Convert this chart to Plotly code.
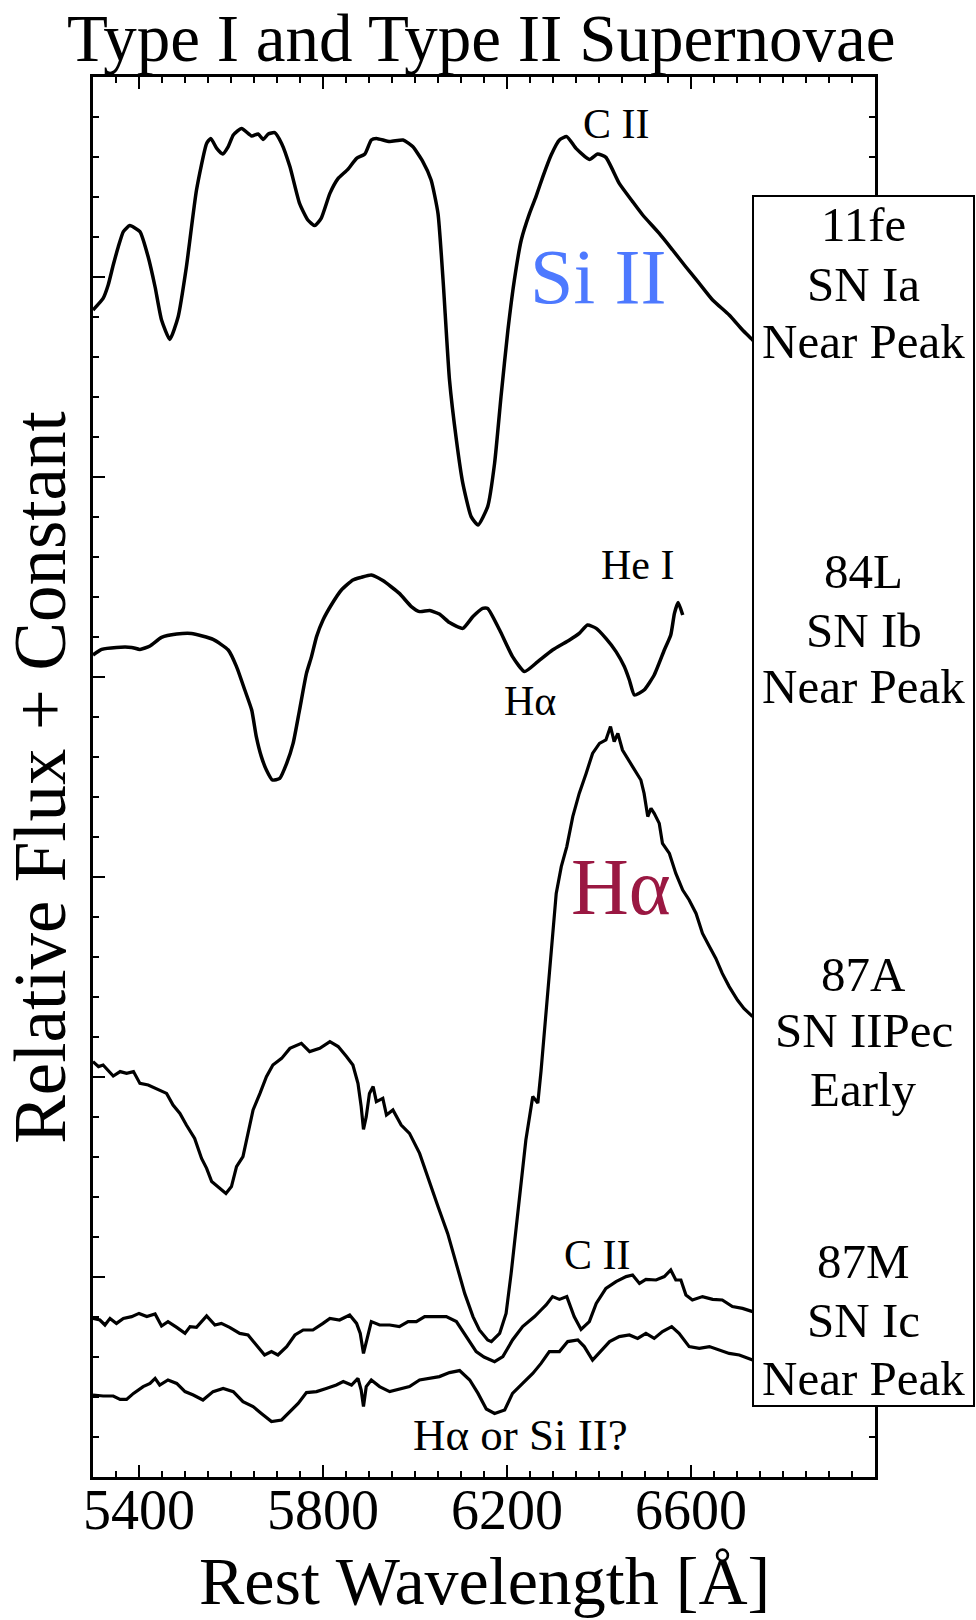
import plotly.graph_objects as go

# ---- spectra (rest wavelength in Angstrom, relative flux + constant) ----
wave_11fe = [5300, 5322, 5333, 5344, 5355, 5366, 5380, 5402, 5420, 5435, 5449, 5467, 5485, 5503, 5525,
             5547, 5556, 5569, 5582, 5594, 5605, 5623, 5645, 5659, 5670, 5681, 5695, 5710, 5728, 5749,
             5767, 5782, 5796, 5815, 5833, 5854, 5873, 5891, 5905, 5916, 5945, 5974, 5995, 6017, 6035,
             6050, 6061, 6075, 6090, 6104, 6122, 6137, 6158, 6173, 6187, 6202, 6216, 6231, 6249, 6263,
             6278, 6296, 6314, 6330, 6350, 6379, 6397, 6415, 6444, 6473, 6495, 6531, 6560, 6589, 6618,
             6647, 6683, 6712, 6734, 6760]
flux_11fe = [5.835, 5.893, 5.96, 6.06, 6.151, 6.227, 6.257, 6.227, 6.10, 5.95, 5.785, 5.688, 5.80, 6.05, 6.435,
             6.668, 6.693, 6.643, 6.615, 6.652, 6.71, 6.743, 6.705, 6.715, 6.688, 6.715, 6.722, 6.668, 6.552, 6.368,
             6.285, 6.257, 6.293, 6.418, 6.493, 6.538, 6.593, 6.615, 6.685, 6.693, 6.677, 6.685, 6.652, 6.577, 6.485,
             6.318, 5.985, 5.485, 5.185, 4.968, 4.802, 4.76, 4.852, 5.068, 5.402, 5.735, 5.985, 6.185, 6.318, 6.402,
             6.502, 6.61, 6.685, 6.702, 6.643, 6.588, 6.615, 6.598, 6.468, 6.377, 6.31, 6.218, 6.135, 6.05, 5.968,
             5.885, 5.81, 5.735, 5.685, 5.62]

wave_84L = [5300, 5319, 5351, 5384, 5402, 5424, 5449, 5482, 5514, 5561, 5594, 5612, 5630, 5645, 5655,
            5666, 5677, 5690, 5706, 5721, 5735, 5749, 5764, 5775, 5786, 5800, 5818, 5840, 5865, 5883,
            5905, 5930, 5966, 5992, 6010, 6032, 6053, 6075, 6104, 6126, 6147, 6158, 6184, 6212, 6238,
            6267, 6299, 6336, 6357, 6375, 6394, 6415, 6437, 6455, 6466, 6477, 6498, 6520, 6542, 6556,
            6564, 6572, 6582]
flux_84L = [4.11, 4.138, 4.148, 4.148, 4.138, 4.155, 4.198, 4.215, 4.218, 4.188, 4.135, 4.052, 3.935, 3.835, 3.702,
            3.602, 3.535, 3.485, 3.493, 3.568, 3.668, 3.835, 4.018, 4.102, 4.202, 4.285, 4.36, 4.435, 4.485, 4.498,
            4.51, 4.482, 4.418, 4.352, 4.327, 4.332, 4.315, 4.272, 4.243, 4.302, 4.343, 4.343, 4.235, 4.102, 4.027,
            4.077, 4.135, 4.185, 4.218, 4.26, 4.243, 4.193, 4.127, 4.052, 3.985, 3.91, 3.935, 4.01, 4.135, 4.21,
            4.318, 4.372, 4.31]

wave_87A = [5300, 5312, 5322, 5344, 5359, 5373, 5388, 5402, 5420, 5438, 5460, 5474, 5489, 5503, 5521,
            5536, 5547, 5558, 5572, 5589, 5601, 5612, 5626, 5637, 5648, 5663, 5677, 5691, 5710, 5728,
            5753, 5771, 5793, 5815, 5833, 5851, 5865, 5876, 5883, 5888, 5894, 5901, 5909, 5916, 5930,
            5938, 5952, 5970, 5988, 6010, 6032, 6050, 6071, 6090, 6108, 6126, 6140, 6158, 6166, 6184,
            6198, 6209, 6220, 6231, 6241, 6256, 6267, 6274, 6285, 6296, 6307, 6318, 6330, 6343, 6357,
            6372, 6386, 6401, 6415, 6425, 6433, 6441, 6451, 6473, 6491, 6498, 6506, 6513, 6520, 6531,
            6538, 6553, 6567, 6582, 6596, 6611, 6625, 6640, 6654, 6668, 6683, 6701, 6715, 6734]
flux_87A = [2.077, 2.052, 2.06, 2.005, 2.027, 2.018, 2.027, 1.968, 1.96, 1.943, 1.918, 1.86, 1.818, 1.76, 1.693,
            1.593, 1.543, 1.477, 1.452, 1.418, 1.452, 1.552, 1.602, 1.718, 1.835, 1.918, 2.002, 2.06, 2.093, 2.143,
            2.168, 2.127, 2.143, 2.177, 2.152, 2.102, 2.06, 1.968, 1.852, 1.738, 1.802, 1.918, 1.952, 1.877, 1.893,
            1.81, 1.835, 1.76, 1.718, 1.618, 1.468, 1.352, 1.218, 1.068, 0.918, 0.802, 0.735, 0.685, 0.677, 0.718,
            0.818, 1.018, 1.252, 1.485, 1.685, 1.902, 1.87, 2.03, 2.335, 2.652, 2.918, 3.052, 3.152, 3.302, 3.418,
            3.518, 3.618, 3.668, 3.685, 3.752, 3.677, 3.718, 3.635, 3.552, 3.485, 3.418, 3.302, 3.343, 3.318, 3.268,
            3.168, 3.118, 3.018, 2.935, 2.885, 2.818, 2.718, 2.652, 2.593, 2.518, 2.452, 2.385, 2.343, 2.302]

wave_87M_a = [5300, 5315, 5326, 5337, 5351, 5366, 5384, 5400, 5417, 5435, 5449, 5463, 5482, 5500, 5511,
              5525, 5547, 5565, 5579, 5597, 5619, 5637, 5655, 5673, 5688, 5702, 5721, 5739, 5757, 5778,
              5800, 5815, 5836, 5858, 5873, 5881, 5888, 5898, 5905, 5923, 5945, 5966, 5985, 6003, 6021,
              6046, 6068, 6090, 6112, 6133, 6150, 6173, 6191, 6212, 6234, 6260, 6274, 6285, 6299, 6314,
              6330, 6346, 6361, 6379, 6394, 6415, 6437, 6459, 6473, 6488, 6502, 6524, 6542, 6556, 6567,
              6578, 6589, 6603, 6625, 6647, 6668, 6690, 6712, 6734]
flux_87M_a = [0.793, 0.785, 0.76, 0.793, 0.768, 0.793, 0.802, 0.818, 0.802, 0.815, 0.755, 0.777, 0.748, 0.718, 0.752,
              0.748, 0.805, 0.76, 0.768, 0.748, 0.718, 0.71, 0.66, 0.61, 0.627, 0.61, 0.652, 0.71, 0.735, 0.735,
              0.768, 0.793, 0.785, 0.81, 0.768, 0.718, 0.618, 0.718, 0.777, 0.76, 0.76, 0.752, 0.777, 0.777, 0.802,
              0.802, 0.802, 0.777, 0.702, 0.627, 0.6, 0.577, 0.602, 0.685, 0.752, 0.802, 0.835, 0.86, 0.902, 0.888,
              0.902, 0.802, 0.738, 0.777, 0.868, 0.943, 0.977, 1.002, 1.01, 0.968, 0.988, 0.985, 1.002, 1.035, 0.985,
              0.985, 0.91, 0.885, 0.902, 0.888, 0.885, 0.852, 0.843, 0.827]

wave_87M_b = [5300, 5322, 5344, 5359, 5373, 5388, 5409, 5424, 5435, 5445, 5463, 5482, 5500, 5518, 5539,
              5561, 5583, 5605, 5626, 5648, 5666, 5688, 5710, 5728, 5746, 5764, 5786, 5807, 5829, 5844,
              5862, 5876, 5883, 5888, 5894, 5905, 5923, 5945, 5966, 5988, 6010, 6032, 6053, 6075, 6097,
              6119, 6137, 6155, 6173, 6195, 6212, 6234, 6256, 6274, 6292, 6314, 6332, 6354, 6368, 6386,
              6405, 6423, 6444, 6466, 6484, 6502, 6520, 6538, 6558, 6574, 6596, 6618, 6640, 6661, 6683,
              6705, 6734]
flux_87M_b = [0.41, 0.405, 0.405, 0.388, 0.388, 0.418, 0.452, 0.468, 0.493, 0.46, 0.485, 0.468, 0.427, 0.41, 0.385,
              0.427, 0.443, 0.427, 0.377, 0.352, 0.318, 0.277, 0.285, 0.327, 0.368, 0.422, 0.427, 0.443, 0.46, 0.477,
              0.46, 0.493, 0.435, 0.352, 0.452, 0.485, 0.452, 0.427, 0.438, 0.452, 0.485, 0.493, 0.502, 0.522, 0.532,
              0.485, 0.418, 0.34, 0.318, 0.335, 0.418, 0.468, 0.518, 0.568, 0.627, 0.627, 0.677, 0.685, 0.652, 0.585,
              0.635, 0.677, 0.702, 0.71, 0.693, 0.718, 0.693, 0.727, 0.752, 0.718, 0.652, 0.643, 0.652, 0.635, 0.618,
              0.61, 0.585]

# ---- axis ticks ----
x_major = [5400, 5600, 5800, 6000, 6200, 6400, 6600, 6800]
x_labels = ["5400", "", "5800", "", "6200", "", "6600", ""]
y_major = [1, 2, 3, 4, 5, 6]

# ---- labels in the side box (one entry per text line, paper y) ----
sn_lines = ["11fe", "SN Ia", "Near Peak",
            "84L", "SN Ib", "Near Peak",
            "87A", "SN IIPec", "Early",
            "87M", "SN Ic", "Near Peak"]
sn_line_y = [0.8943, 0.8521, 0.8114,
             0.6471, 0.6050, 0.5643,
             0.3586, 0.3186, 0.2771,
             0.1536, 0.1121, 0.0707]

line_notes = [
    ("C II", 6438, 6.765, 42, "black"),
    ("Si II", 6398, 6.005, 78, "#4D79FF"),
    ("He I", 6483, 4.56, 42, "black"),
    ("Hα", 6251, 3.88, 42, "black"),
    ("Hα", 6448, 2.95, 80, "#9A1842"),
    ("C II", 6396, 1.11, 42, "black"),
    ("Hα or Si II?", 6229, 0.21, 45, "black"),
]

FONT = "Liberation Serif, Times New Roman, serif"

fig = go.Figure()
smooth = [(wave_11fe, flux_11fe), (wave_84L, flux_84L)]
noisy = [(wave_87A, flux_87A), (wave_87M_a, flux_87M_a), (wave_87M_b, flux_87M_b)]
for w, f in smooth:
    fig.add_trace(go.Scatter(x=w, y=f, mode="lines",
                             line=dict(color="black", width=3.5, shape="spline", smoothing=0.5),
                             showlegend=False, hoverinfo="skip"))
for w, f in noisy:
    fig.add_trace(go.Scatter(x=w, y=f, mode="lines", line=dict(color="black", width=3.2),
                             showlegend=False, hoverinfo="skip"))

fig.update_xaxes(
    range=[5300, 7000], showgrid=False, zeroline=False,
    showline=True, linecolor="black", linewidth=2.5, mirror="allticks",
    ticks="inside", ticklen=12, tickwidth=2, tickcolor="black",
    tickmode="array", tickvals=x_major, ticktext=x_labels, ticklabelstandoff=-18,
    tickfont=dict(family=FONT, size=56, color="black"),
    minor=dict(ticks="inside", ticklen=6, tickwidth=1.5, tickcolor="black",
               tickmode="array", tickvals=list(range(5300, 7001, 50))),
)
fig.update_yaxes(
    range=[0, 7], showgrid=False, zeroline=False, showticklabels=False,
    showline=True, linecolor="black", linewidth=2.5, mirror="allticks",
    ticks="inside", ticklen=12, tickwidth=2, tickcolor="black",
    tickmode="array", tickvals=y_major,
    minor=dict(ticks="inside", ticklen=6, tickwidth=1.5, tickcolor="black",
               tickmode="array", tickvals=[i * 0.2 for i in range(36)]),
)

# label box on the right
fig.add_shape(type="rect", xref="paper", yref="paper", x0=0.844, x1=1.1266, y0=0.0507, y1=0.915,
              line=dict(color="black", width=2), fillcolor="white", layer="above")
for txt, yy in zip(sn_lines, sn_line_y):
    fig.add_annotation(text=txt, xref="paper", yref="paper", x=0.9853, y=yy, showarrow=False,
                       xanchor="center", yanchor="middle", align="center", borderpad=0,
                       font=dict(family=FONT, size=49, color="black"))

for txt, xx, yy, size, col in line_notes:
    fig.add_annotation(text=txt, x=xx, y=yy, xref="x", yref="y", showarrow=False,
                       xanchor="center", yanchor="middle",
                       font=dict(family=FONT, size=size, color=col))

# titles
fig.add_annotation(text="Type I and Type II Supernovae", xref="paper", yref="paper",
                   x=0.496, y=1.055, showarrow=False, xanchor="center", yanchor="top", borderpad=0,
                   font=dict(family=FONT, size=67, color="black"))
fig.add_annotation(text="Rest Wavelength [Å]", xref="paper", yref="paper",
                   x=0.5, y=-0.0743, showarrow=False, xanchor="center", yanchor="middle", borderpad=0,
                   font=dict(family=FONT, size=68, color="black"))
fig.add_annotation(text="Relative Flux + Constant", xref="paper", yref="paper",
                   x=-0.068, y=0.5, textangle=-90, showarrow=False, xanchor="center", yanchor="middle",
                   font=dict(family=FONT, size=73, color="black"))

fig.update_layout(
    width=976, height=1620,
    margin=dict(l=93, r=101, t=77, b=143),
    paper_bgcolor="white", plot_bgcolor="white",
    font=dict(family=FONT, color="black"),
)

fig.write_html("out.html")
